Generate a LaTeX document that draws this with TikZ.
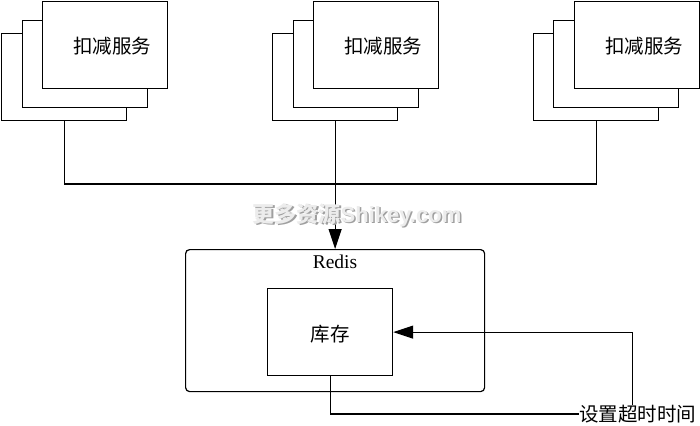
\documentclass[tikz,border=0pt]{standalone}
\usepackage{fontspec}
\setmainfont{Liberation Serif}
\newfontfamily\cjk{Noto Sans CJK SC}
\newfontfamily\wsans{Liberation Sans}
\usetikzlibrary{arrows.meta,positioning,calc}
\begin{document}
\begin{tikzpicture}[x=1pt,y=-1pt,
  every node/.style={inner sep=0pt},
  box/.style={draw,fill=white,line width=1.2pt,minimum width=125pt,minimum height=87pt,anchor=north west},
  lbl/.style={font=\cjk\fontsize{19.5}{20}\selectfont},
  conn/.style={line width=1.2pt},
  arr/.style={line width=1.2pt,-{Triangle[length=20pt,width=13pt]}},
  wmark/.style={font=\bfseries\fontsize{22}{23}\selectfont}]
\useasboundingbox (0,0) rectangle (700,425);
% stack 1
\node[box] (b1) at (1,33) {};
\node[box] (m1) at (22,20) {};
\node[box] (f1) at (42,1) {};
\node[lbl] (t1) at (112,46) {扣减服务};
% stack 2
\node[box] (b2) at (272,33) {};
\node[box] (m2) at (293,20) {};
\node[box] (f2) at (313,1) {};
\node[lbl] (t2) at (383,46) {扣减服务};
% stack 3
\node[box] (b3) at (533,33) {};
\node[box] (m3) at (553,20) {};
\node[box] (f3) at (574,1) {};
\node[lbl] (t3) at (644,46) {扣减服务};
% redis
\node[draw,line width=1.2pt,rounded corners=4pt,minimum width=299pt,minimum height=142pt,anchor=north west] (redis) at (185,249) {};
\node[font=\fontsize{19.5}{20}\selectfont] (rt) at (335,262) {Redis};
\node[box] (kc) at (267,288) {};
\node[lbl] (kt) at (330,334) {库存};
\node[lbl,anchor=west] (to) at (579,414) {设置超时时间};
% connectors
\coordinate (hub) at (b2.south |- 0,184);
\draw[conn] (b1.south) |- (hub) -| (b3.south);
\draw[arr] (b2.south) -- (redis.north);
\draw[conn] (kc.south) |- (to.west);
\draw[arr] ([xshift=-5pt]to.north) |- (kc.east);
% watermark
\node[text=gray!75,wmark] (wm2) at (358.5,216.5) {{\cjk 更多资源}{\wsans Shikey.com}};
\node[text=gray!15,wmark] (wm) at (357,215) {{\cjk 更多资源}{\wsans Shikey.com}};
\end{tikzpicture}
\end{document}
